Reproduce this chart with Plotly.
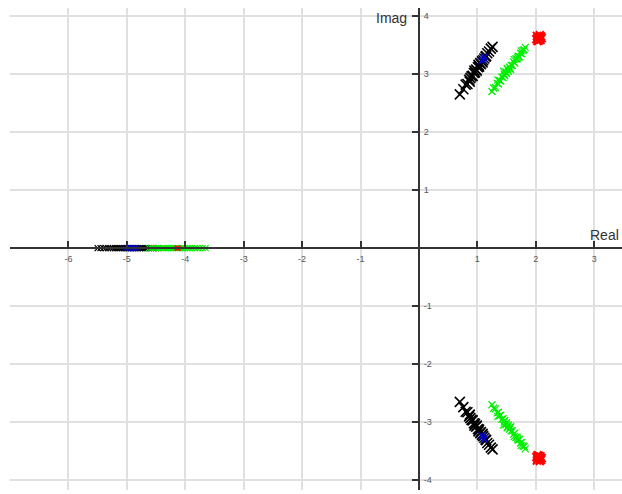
import plotly.graph_objects as go

# Closed-loop pole estimates (complex poles given by real part and positive imaginary part;
# each is drawn together with its conjugate).
black_re = [0.70, 0.76, 0.80, 0.83, 0.86, 0.88, 0.90, 0.92, 0.94, 0.96, 0.98, 0.99, 1.01, 1.03, 1.05,
            1.06, 1.08, 1.10, 1.12, 1.14, 1.17, 1.20, 1.23, 1.26, 0.87, 0.95, 1.02, 1.09, 1.15]
black_im = [2.65, 2.74, 2.82, 2.83, 2.90, 2.93, 2.96, 2.97, 3.02, 3.03, 3.08, 3.06, 3.12, 3.13, 3.19,
            3.17, 3.22, 3.24, 3.27, 3.30, 3.36, 3.39, 3.44, 3.47, 2.87, 3.06, 3.16, 3.20, 3.31]

green_re = [1.25, 1.28, 1.31, 1.34, 1.36, 1.38, 1.40, 1.42, 1.44, 1.46, 1.47, 1.49, 1.50, 1.52, 1.53,
            1.55, 1.56, 1.58, 1.60, 1.62, 1.64, 1.66, 1.68, 1.70, 1.72, 1.74, 1.76, 1.78, 1.80, 1.82,
            1.35, 1.45, 1.51, 1.57, 1.63, 1.69, 1.75]
green_im = [2.70, 2.76, 2.77, 2.84, 2.83, 2.89, 2.88, 2.95, 2.94, 3.00, 2.97, 3.04, 3.01, 3.08, 3.05,
            3.12, 3.09, 3.15, 3.15, 3.21, 3.19, 3.26, 3.26, 3.31, 3.30, 3.36, 3.35, 3.41, 3.42, 3.46,
            2.90, 3.05, 3.10, 3.08, 3.25, 3.29, 3.40]

blue_re = [1.07, 1.09, 1.11, 1.10, 1.12]
blue_im = [3.22, 3.25, 3.28, 3.24, 3.30]

red_re = [2.01, 2.03, 2.05, 2.07, 2.09, 2.02, 2.04, 2.06, 2.08, 2.10, 2.03, 2.07]
red_im = [3.60, 3.63, 3.58, 3.62, 3.65, 3.66, 3.61, 3.64, 3.59, 3.62, 3.57, 3.67]

# Real poles
black_real = [-5.50, -5.45, -5.40, -5.36, -5.32, -5.28, -5.24, -5.20, -5.17, -5.14, -5.11, -5.08,
              -5.05, -5.02, -4.99, -4.96, -4.93, -4.90, -4.87, -4.84, -4.81, -4.78, -4.75, -4.72,
              -4.69, -4.66, -4.62, -4.58, -4.54, -4.50, -4.46]
green_real = [-4.62, -4.58, -4.54, -4.50, -4.46, -4.42, -4.39, -4.36, -4.33, -4.30, -4.27, -4.24,
              -4.21, -4.18, -4.15, -4.12, -4.09, -4.06, -4.03, -4.00, -3.96, -3.92, -3.88, -3.84,
              -3.80, -3.75, -3.70, -3.65]
blue_real = [-5.02, -4.98, -4.94, -4.90, -4.86, -4.82]
red_real = [-4.14, -4.12]

x_ticks = [-7, -6, -5, -4, -3, -2, -1, 0, 1, 2, 3]
y_ticks = [-4, -3, -2, -1, 0, 1, 2, 3, 4]
x_range = [-7.0, 3.476]
y_range = [-4.17, 4.14]


def with_conjugates(re, im):
    return re + re, im + [-v for v in im]


fig = go.Figure()


def add_poles(re, im, color, size, width):
    fig.add_trace(go.Scatter(
        x=re, y=im, mode="markers", showlegend=False, hoverinfo="x+y",
        marker=dict(symbol="x-thin", size=size, color=color,
                    line=dict(color=color, width=width)),
    ))


bx, by = with_conjugates(black_re, black_im)
add_poles(bx, by, "black", 10, 1.6)
add_poles(black_real, [0] * len(black_real), "black", 6, 1.3)

gx, gy = with_conjugates(green_re, green_im)
add_poles(gx, gy, "#00ee00", 7, 1.2)
add_poles(green_real, [0] * len(green_real), "#00ee00", 6, 1.2)

ux, uy = with_conjugates(blue_re, blue_im)
add_poles(ux, uy, "#0000cc", 6, 1.2)
add_poles(blue_real, [0] * len(blue_real), "#0000cc", 6, 1.2)

rx, ry = with_conjugates(red_re, red_im)
add_poles(rx, ry, "#ff0000", 8, 2)
add_poles(red_real, [0] * len(red_real), "#ff0000", 5, 1.2)

x0_frac = (0 - x_range[0]) / (x_range[1] - x_range[0])
y0_frac = (0 - y_range[0]) / (y_range[1] - y_range[0])

tick_font = dict(family="Liberation Sans, Arial, sans-serif", size=9, color="#555")
label_font = dict(family="Liberation Sans, Arial, sans-serif", size=14, color="#333")

fig.update_layout(
    width=622, height=494,
    margin=dict(l=10, r=0, t=8, b=4),
    paper_bgcolor="white", plot_bgcolor="white",
    xaxis=dict(
        range=x_range, anchor="free", position=y0_frac,
        tickvals=x_ticks,
        ticktext=["" if v in (-7, 0) else str(v) for v in x_ticks],
        ticks="inside", ticklen=6, tickwidth=2, tickcolor="#333",
        showline=True, linecolor="#333", linewidth=2,
        showgrid=True, gridcolor="#e0e0e0", gridwidth=2,
        zeroline=False, tickfont=tick_font, ticklabelstandoff=2,
    ),
    yaxis=dict(
        range=y_range, anchor="free", position=x0_frac, side="right",
        tickvals=y_ticks,
        ticktext=["" if v == 0 else str(v) for v in y_ticks],
        ticks="inside", ticklen=6, tickwidth=2, tickcolor="#333",
        showline=True, linecolor="#333", linewidth=2,
        showgrid=True, gridcolor="#e0e0e0", gridwidth=2,
        zeroline=False, tickfont=tick_font, ticklabelstandoff=2,
    ),
    annotations=[
        dict(text="Imag", x=0, y=y_range[1], xref="x", yref="y",
             xanchor="right", yanchor="top", xshift=-10, yshift=0, showarrow=False,
             font=label_font),
        dict(text="Real", x=x_range[1], y=0, xref="x", yref="y",
             xanchor="right", yanchor="bottom", xshift=-1, yshift=3, showarrow=False,
             font=label_font),
    ],
)

fig.write_html("out.html")
